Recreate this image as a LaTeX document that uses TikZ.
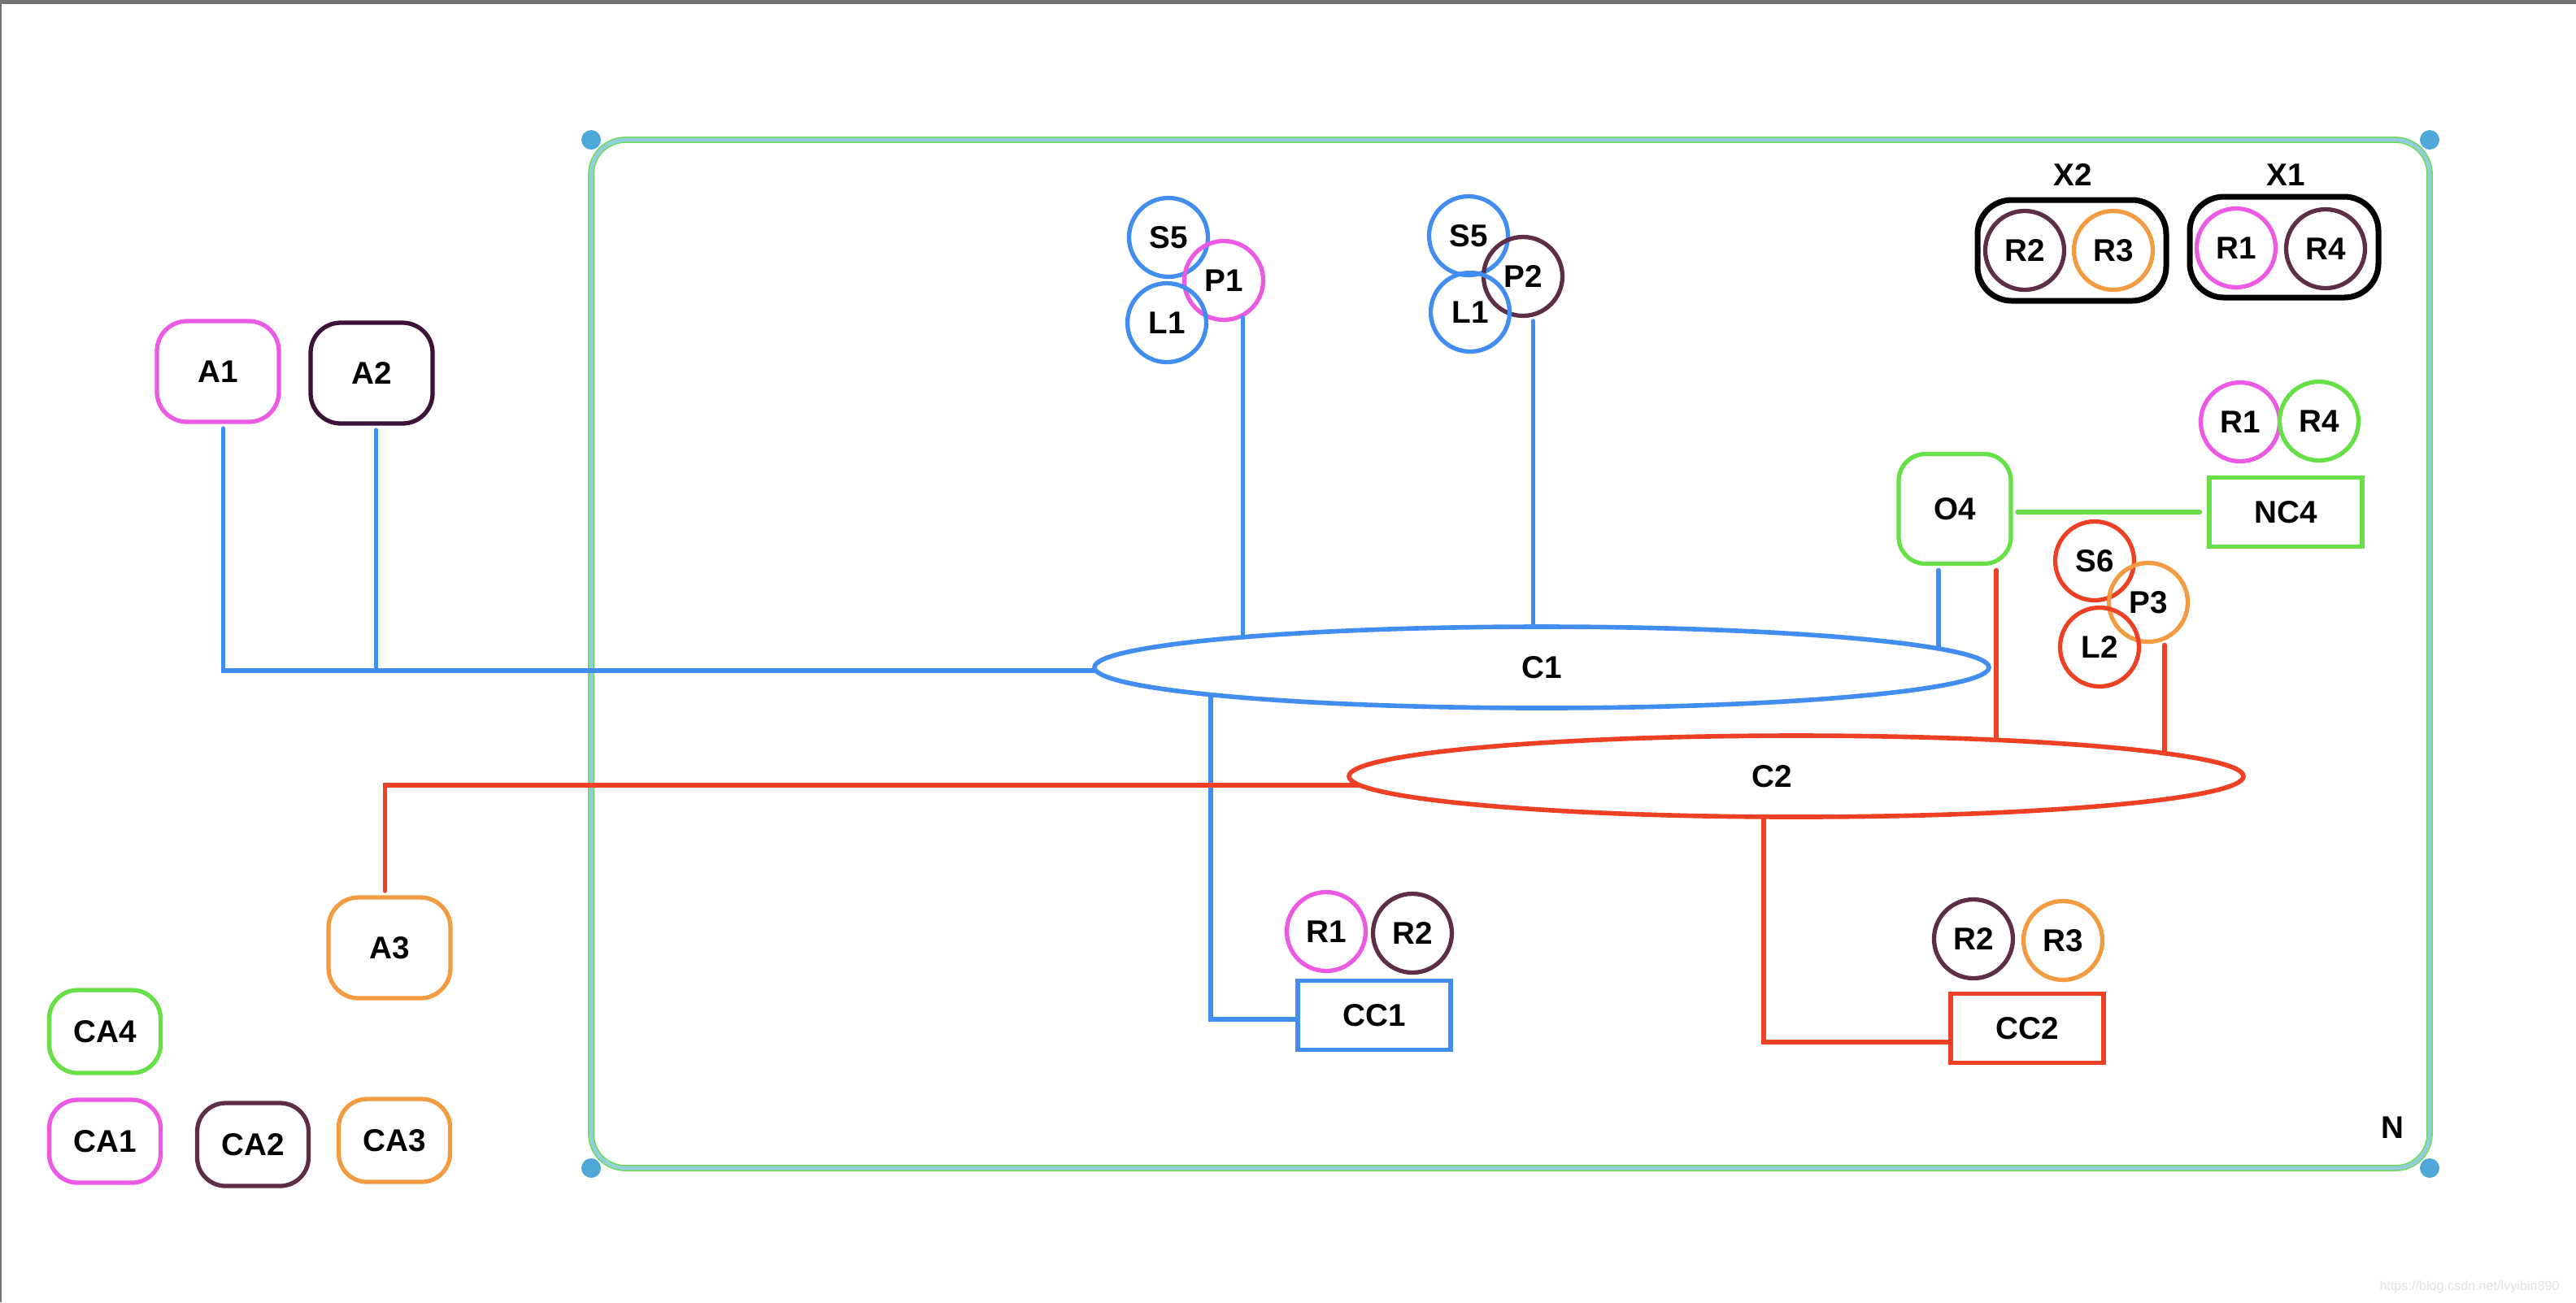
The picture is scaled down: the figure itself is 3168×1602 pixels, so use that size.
\documentclass[tikz,border=0pt]{standalone}
\usepackage{fontspec}
\setmainfont{Liberation Sans}
\usetikzlibrary{shapes.geometric, calc}

\definecolor{lineblue}{RGB}{66,142,240}
\definecolor{linered}{RGB}{237,64,36}
\definecolor{rpink}{RGB}{236,90,228}
\definecolor{rplum}{RGB}{94,45,70}
\definecolor{rdark}{RGB}{60,18,56}
\definecolor{rorange}{RGB}{243,155,64}
\definecolor{rgreen}{RGB}{102,224,70}
\definecolor{netline}{RGB}{146,206,222}
\definecolor{netedge}{RGB}{110,220,90}
\definecolor{netdot}{RGB}{80,168,216}
\definecolor{topbar}{RGB}{115,115,115}
\definecolor{wmgray}{RGB}{226,226,226}

\tikzset{
  every node/.style={font=\bfseries\fontsize{11}{13}\selectfont},
  abox/.style={draw, line width=1.5pt, rounded corners=0.37cm, minimum width=1.5cm, minimum height=1.24cm},
  cabox/.style={abox, rounded corners=0.35cm, minimum width=1.37cm, minimum height=1.02cm},
  rbox/.style={draw, line width=1.5pt, minimum width=1.88cm, minimum height=0.85cm},
  role/.style={circle, draw, line width=1.5pt, minimum size=0.97cm, inner sep=0pt},
  ring/.style={ellipse, draw, line width=1.6pt, minimum width=11cm, minimum height=1cm, inner sep=0pt},
  grp/.style={draw, line width=2pt, rounded corners=0.42cm, minimum width=2.32cm, minimum height=1.24cm},
  wire/.style={line width=1.5pt, line cap=round},
  gap/.style={shorten <=1.5pt},
}

\begin{document}
\begin{tikzpicture}[x=0.1mm, y=-0.1mm]
  \useasboundingbox (0,0) rectangle (3168,1602);
  \fill[white] (0,0) rectangle (3168,1602);
  \fill[topbar] (0,0) rectangle (3168,5);
  \fill[topbar] (0,0) rectangle (2,1602);

  % network frame
  \draw[netedge, line width=2.2pt, rounded corners=0.42cm] (727,172) rectangle (2988,1437);
  \draw[netline, line width=1.3pt, rounded corners=0.42cm] (727,172) rectangle (2988,1437);
  \foreach \p in {(727,172),(2988,172),(727,1437),(2988,1437)}
    \fill[netdot] \p circle[radius=1.2mm];
  \node at (2942,1387) (N) {N};

  % outside
  \node[abox, draw=rpink] at (268,457) (A1) {A1};
  \node[abox, draw=rdark] at (457,459) (A2) {A2};
  \node[abox, draw=rorange] at (479,1166) (A3) {A3};
  \node[cabox, draw=rgreen] at (129,1269) (CA4) {CA4};
  \node[cabox, draw=rpink] at (129,1404) (CA1) {CA1};
  \node[cabox, draw=rplum] at (311,1408) (CA2) {CA2};
  \node[cabox, draw=rorange] at (485,1403) (CA3) {CA3};

  % channels
  \node[ring, draw=lineblue] at (1896,821) (C1) {C1};
  \node[ring, draw=linered] at (2209,955) (C2) {C2\hspace*{0.6cm}};
  \coordinate (C1w) at ($(C1)+(-550,4)$);
  \coordinate (C1p) at ($(C1)+(-369,-37)$);
  \coordinate (C1q) at ($(C1)+(-11,-50)$);
  \coordinate (C1o) at ($(C1)+(489,-23)$);
  \coordinate (C1c) at ($(C1)+(-407,34)$);
  \coordinate (C2a) at ($(C2)+(-537,11)$);
  \coordinate (C2o) at ($(C2)+(244,-45)$);
  \coordinate (C2p) at ($(C2)+(452,-28)$);
  \coordinate (C2c) at ($(C2)+(-40,50)$);

  % peers
  \node[role, draw=lineblue] at (1437,292) (S5a) {S5};
  \node[role, draw=rpink] at (1505,345) (P1) {P1};
  \node[role, draw=lineblue] at (1435,397) (L1a) {L1};
  \node[role, draw=lineblue] at (1806,290) (S5b) {S5};
  \node[role, draw=rplum] at (1873,340) (P2) {P2};
  \node[role, draw=lineblue] at (1808,384) (L1b) {L1};
  \node[role, draw=linered] at (2576,690) (S6) {S6};
  \node[role, draw=rorange] at (2642,741) (P3) {P3};
  \node[role, draw=linered] at (2582,796) (L2) {L2};

  % groups
  \node[grp] at (2548,308) (X2) {};
  \node at (2549,215) (X2lbl) {X2};
  \node[role, draw=rplum] at (2490,308) (X2R2) {R2};
  \node[role, draw=rorange] at (2599,308) (X2R3) {R3};
  \node[grp] at (2809,304) (X1) {};
  \node at (2811,215) (X1lbl) {X1};
  \node[role, draw=rpink] at (2750,305) (X1R1) {R1};
  \node[role, draw=rplum] at (2860,306) (X1R4) {R4};

  % orderer
  \node[abox, draw=rgreen, rounded corners=0.33cm, minimum width=1.38cm, minimum height=1.35cm] at (2404,626) (O4) {O4};
  \node[rbox, draw=rgreen] at (2811,630) (NC4) {NC4};
  \node[role, draw=rpink] at (2755,519) (NR1) {R1};
  \node[role, draw=rgreen] at (2852,518) (NR4) {R4};

  % channel configs
  \node[rbox, draw=lineblue] at (1690,1249) (CC1) {CC1};
  \node[role, draw=rpink] at (1631,1146) (CR1) {R1};
  \node[role, draw=rplum] at (1737,1148) (CR2) {R2};
  \node[rbox, draw=linered] at (2493,1265) (CC2) {CC2};
  \node[role, draw=rplum] at (2427,1155) (DR2) {R2};
  \node[role, draw=rorange] at (2537,1157) (DR3) {R3};

  \draw[wire, lineblue, gap] (A1.276) |- (C1w);
  \draw[wire, lineblue, gap] (A2.275) -- (A2.275 |- C1w);
  \draw[wire, lineblue] (P1.297) -- (P1.297 |- C1p);
  \draw[wire, lineblue, gap] (P2.284) -- (P2.284 |- C1q);
  \draw[wire, lineblue, gap] (O4.254) -- (O4.254 |- C1o);
  \draw[wire, lineblue] (C1c) |- (CC1.183);
  \draw[wire, linered, gap] (A3.95) |- (C2a);
  \draw[wire, linered, gap] (O4.306) -- (O4.306 |- C2o);
  \draw[wire, linered, gap] (P3.293) -- (P3.293 |- C2p);
  \draw[wire, linered] (C2c) |- (CC2.190);
  \draw[wire, rgreen, gap, shorten >=2.5pt] (NC4.west -| O4.east) -- (NC4.west);

  \node[font=\fontsize{4.6}{5}\selectfont, text=wmgray, anchor=east] at (3160,1583) (wm) {https://blog.csdn.net/lvyibin890};
\end{tikzpicture}
\end{document}
